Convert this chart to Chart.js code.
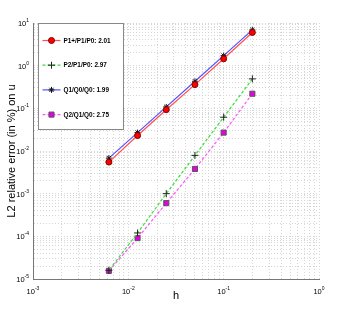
<!DOCTYPE html>
<html lang="en">
<head>
<meta charset="UTF-8">
<script src="https://cdn.jsdelivr.net/npm/chart.js@4.4.0/dist/chart.umd.min.js"></script>
<style>
    html, body {
        margin: 0;
        padding: 0;
        background: #fff;
    }

    #wrap {
        width: 340px;
        height: 331px;
    }
</style>
<title>L2 relative error on u</title>
</head>
<body>
<div id="wrap"><canvas id="chartCanvas" width="340" height="331"></canvas></div>

<script>
    // mesh size h and the L2 relative error (in %) of each element pair
    const meshSizes = [0.2, 0.1, 0.05, 0.025, 0.0125, 0.00625];
    const errP1bP1P0 = [6.0, 1.45, 0.36, 0.093, 0.023, 0.0055];
    const errP2P1P0 = [0.49, 0.062, 0.0079, 0.001, 0.00012, 0.000016];
    const errQ1Q0Q0 = [6.9, 1.72, 0.43, 0.108, 0.027, 0.0068];
    const errQ2Q1Q0 = [0.22, 0.027, 0.0038, 0.0006, 0.000091, 0.0000155];

    const seriesLabels = ['P1+/P1/P0: 2.01', 'P2/P1/P0: 2.97', 'Q1/Q0/Q0: 1.99', 'Q2/Q1/Q0: 2.75'];

    // decades shown on each axis (tick labels are 10^e)
    const xDecades = [-3, -2, -1, 0];
    const yDecades = [-5, -4, -3, -2, -1, 0, 1];

    const FONT = '"Liberation Sans", Arial, Helvetica, sans-serif';

    // 1..9 x 10^e for every decade, so the minor grid is like the original
    function decadeTicks(decades) {
        const ticks = [];
        for (let i = 0; i < decades.length; i++) {
            const e = decades[i];
            const last = i === decades.length - 1;
            for (let k = 1; k <= (last ? 1 : 9); k++) {
                ticks.push({ value: parseFloat((k * Math.pow(10, e)).toPrecision(6)) });
            }
        }
        return ticks;
    }

    function points(values) {
        return meshSizes.map((h, i) => ({ x: h, y: values[i] }));
    }

    const datasets = [
        {
            label: seriesLabels[0],
            data: points(errP1bP1P0),
            borderColor: 'rgb(255,80,80)',
            borderWidth: 1.2,
            pointStyle: 'circle',
            pointRadius: 3,
            pointBackgroundColor: '#ff0000',
            pointBorderColor: '#800000',
            pointBorderWidth: 1
        },
        {
            label: seriesLabels[1],
            data: points(errP2P1P0),
            borderColor: '#3ddc3d',
            borderWidth: 1.2,
            borderDash: [3, 2],
            pointStyle: 'cross',
            pointRadius: 3.5,
            pointBackgroundColor: '#222',
            pointBorderColor: '#222',
            pointBorderWidth: 1
        },
        {
            label: seriesLabels[2],
            data: points(errQ1Q0Q0),
            borderColor: '#5050ff',
            borderWidth: 1.2,
            pointStyle: 'star',
            pointRadius: 3,
            pointBackgroundColor: '#111',
            pointBorderColor: '#111',
            pointBorderWidth: 1
        },
        {
            label: seriesLabels[3],
            data: points(errQ2Q1Q0),
            borderColor: '#ff55ff',
            borderWidth: 1.2,
            borderDash: [3, 2],
            pointStyle: 'rect',
            pointRadius: 3.6,
            pointBackgroundColor: '#e600e6',
            pointBorderColor: '#555',
            pointBorderWidth: 1
        }
    ];

    // tick labels as 10 with a raised exponent, placed by the scales
    const powerTicks = {
        id: 'powerTicks',
        afterDraw(chart) {
            const ctx = chart.ctx;
            const xs = chart.scales.x;
            const ys = chart.scales.y;
            ctx.save();
            ctx.fillStyle = '#000';
            ctx.textBaseline = 'alphabetic';

            xDecades.forEach(e => {
                const px = xs.getPixelForValue(Math.pow(10, e));
                const base = xs.bottom - xs.height + 15;
                ctx.font = '7.5px ' + FONT;
                const w = ctx.measureText('10').width;
                ctx.font = '5px ' + FONT;
                const we = ctx.measureText(String(e)).width;
                const left = px - (w + we) / 2;
                ctx.font = '7.5px ' + FONT;
                ctx.textAlign = 'left';
                ctx.fillText('10', left, base);
                ctx.font = '5px ' + FONT;
                ctx.fillText(String(e), left + w, base - 4);
            });

            yDecades.forEach(e => {
                const py = ys.getPixelForValue(Math.pow(10, e));
                ctx.font = '5px ' + FONT;
                const we = ctx.measureText(String(e)).width;
                const right = ys.right - 4;
                ctx.textAlign = 'right';
                ctx.fillText(String(e), right, py - 1);
                ctx.font = '7.5px ' + FONT;
                ctx.fillText('10', right - we, py + 3);
            });
            ctx.restore();
        }
    };

    // boxed legend in the upper left corner of the plot
    const boxLegend = {
        id: 'boxLegend',
        afterDatasetsDraw(chart) {
            const ctx = chart.ctx;
            const area = chart.chartArea;
            const x0 = Math.round(area.left) + 5.5;
            const y0 = Math.round(area.top) + 0.5;
            ctx.save();
            ctx.fillStyle = '#fff';
            ctx.strokeStyle = '#888';
            ctx.lineWidth = 1;
            ctx.fillRect(x0, y0, 85, 106);
            ctx.strokeRect(x0, y0, 85, 106);

            chart.data.datasets.forEach((ds, i) => {
                const y = y0 + 17 + i * 24.7;
                ctx.save();
                ctx.strokeStyle = ds.borderColor;
                ctx.lineWidth = ds.borderWidth;
                ctx.setLineDash(ds.borderDash || []);
                ctx.beginPath();
                ctx.moveTo(x0 + 4, y);
                ctx.lineTo(x0 + 22, y);
                ctx.stroke();
                ctx.restore();

                ctx.save();
                ctx.fillStyle = ds.pointBackgroundColor;
                ctx.strokeStyle = ds.pointBorderColor;
                ctx.lineWidth = ds.pointBorderWidth;
                Chart.helpers.drawPoint(ctx, {
                    pointStyle: ds.pointStyle,
                    radius: ds.pointRadius,
                    rotation: 0,
                    borderWidth: ds.pointBorderWidth
                }, x0 + 13, y);
                ctx.restore();

                ctx.fillStyle = '#000';
                ctx.font = 'bold 6.4px ' + FONT;
                ctx.textBaseline = 'middle';
                ctx.textAlign = 'left';
                ctx.fillText(ds.label, x0 + 25, y + 0.5);
            });
            ctx.restore();
        }
    };

    const gridStyle = { color: '#d6d6d6', lineWidth: 1, drawTicks: false };
    const borderStyle = { display: true, color: '#777', width: 1, dash: [1, 2] };

    new Chart(document.getElementById('chartCanvas').getContext('2d'), {
        type: 'line',
        data: { datasets: datasets },
        options: {
            responsive: false,
            animation: false,
            layout: { padding: { top: 23, right: 21, left: 0, bottom: 0 } },
            plugins: {
                legend: { display: false },
                tooltip: { enabled: false }
            },
            scales: {
                x: {
                    type: 'logarithmic',
                    min: Math.pow(10, xDecades[0]),
                    max: Math.pow(10, xDecades[xDecades.length - 1]),
                    afterBuildTicks: scale => { scale.ticks = decadeTicks(xDecades); },
                    afterFit: scale => { scale.height = 52; },
                    grid: gridStyle,
                    border: borderStyle,
                    ticks: {
                        autoSkip: false,
                        maxRotation: 0,
                        padding: 5,
                        font: { family: FONT, size: 7 },
                        callback: () => ''
                    },
                    title: {
                        display: true,
                        text: 'h',
                        color: '#000',
                        font: { family: FONT, size: 11 },
                        padding: { top: 0, bottom: 28 }
                    }
                },
                y: {
                    type: 'logarithmic',
                    min: Math.pow(10, yDecades[0]),
                    max: Math.pow(10, yDecades[yDecades.length - 1]),
                    afterBuildTicks: scale => { scale.ticks = decadeTicks(yDecades); },
                    afterFit: scale => { scale.width = 33; },
                    grid: gridStyle,
                    border: borderStyle,
                    ticks: {
                        autoSkip: false,
                        padding: 4,
                        font: { family: FONT, size: 7 },
                        callback: () => ''
                    },
                    title: {
                        display: true,
                        text: 'L2 relative error (in %) on u',
                        color: '#000',
                        font: { family: FONT, size: 11 },
                        padding: { top: 5, bottom: 0 }
                    }
                }
            }
        },
        plugins: [boxLegend, powerTicks]
    });
</script>
</body>
</html>
